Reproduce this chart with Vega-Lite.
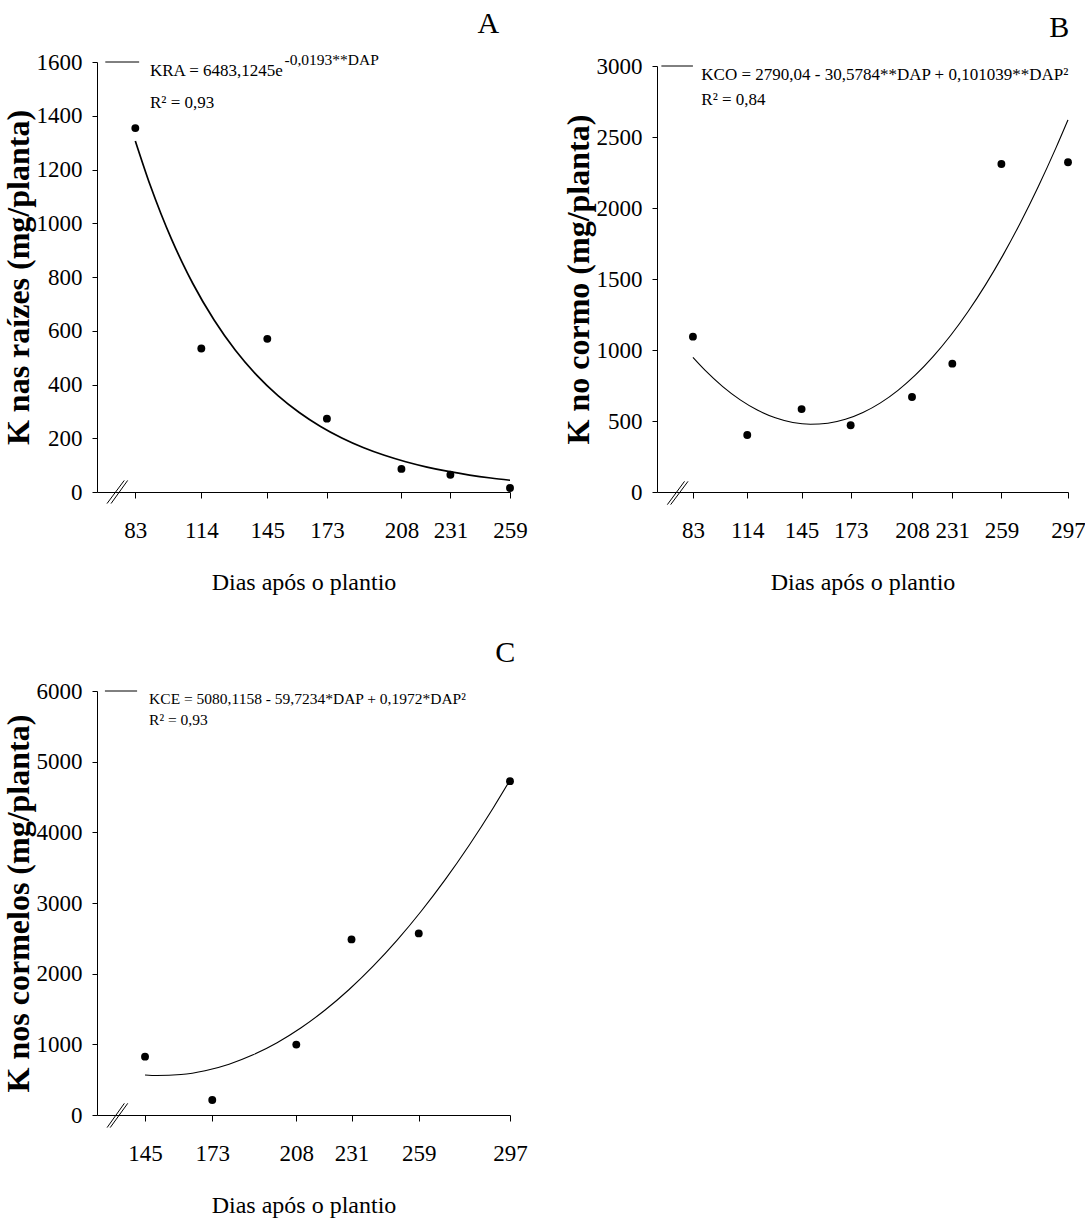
{
  "$schema": "https://vega.github.io/schema/vega-lite/v6.json",
  "background": "white",
  "padding": {"left": 2, "top": 9, "right": 5, "bottom": 5},
  "config": {
    "font": "Liberation Serif",
    "view": {"stroke": null},
    "axis": {
      "grid": false,
      "domainColor": "black",
      "tickColor": "black",
      "labelColor": "black",
      "titleColor": "black",
      "labelFont": "Liberation Serif",
      "titleFont": "Liberation Serif",
      "labelFontSize": 23,
      "titleFontSize": 24,
      "titleFontWeight": "normal",
      "domainWidth": 1,
      "tickWidth": 1
    },
    "axisX": {"tickSize": 6, "labelPadding": 21, "titlePadding": 28, "labelFlush": false},
    "axisY": {"tickSize": 5, "labelPadding": 10, "titlePadding": 1, "titleFontWeight": "bold", "titleFontSize": 32},
    "title": {"font": "Liberation Serif", "fontSize": 30, "fontWeight": "normal", "anchor": "end", "color": "black", "offset": 12}
  },
  "datasets": {
    "one": [{}],
    "pointsA": [
      {"dap": 83, "k": 1354}, {"dap": 114, "k": 534}, {"dap": 145, "k": 570}, {"dap": 173, "k": 273},
      {"dap": 208, "k": 86}, {"dap": 231, "k": 64}, {"dap": 259, "k": 15}
    ],
    "curveA": [
      {"dap": 83, "k": 1306.4}, {"dap": 90, "k": 1141.3}, {"dap": 95, "k": 1036.4}, {"dap": 100, "k": 941.0},
      {"dap": 105, "k": 854.5}, {"dap": 110, "k": 775.8}, {"dap": 120, "k": 639.7}, {"dap": 130, "k": 527.4},
      {"dap": 140, "k": 434.8}, {"dap": 150, "k": 358.5}, {"dap": 160, "k": 295.6}, {"dap": 170, "k": 243.7},
      {"dap": 180, "k": 200.9}, {"dap": 190, "k": 165.6}, {"dap": 200, "k": 136.6}, {"dap": 210, "k": 112.6},
      {"dap": 220, "k": 92.8}, {"dap": 230, "k": 76.6}, {"dap": 240, "k": 63.1}, {"dap": 250, "k": 52.0},
      {"dap": 259, "k": 43.7}
    ],
    "pointsB": [
      {"dap": 83, "k": 1094}, {"dap": 114, "k": 401}, {"dap": 145, "k": 584}, {"dap": 173, "k": 470},
      {"dap": 208, "k": 669}, {"dap": 231, "k": 904}, {"dap": 259, "k": 2310}, {"dap": 297, "k": 2322}
    ],
    "curveB": [
      {"dap": 83, "k": 948.1}, {"dap": 90, "k": 856.4}, {"dap": 100, "k": 742.6}, {"dap": 110, "k": 649.0},
      {"dap": 120, "k": 575.6}, {"dap": 130, "k": 522.4}, {"dap": 140, "k": 489.4}, {"dap": 150, "k": 476.7},
      {"dap": 160, "k": 484.1}, {"dap": 170, "k": 511.7}, {"dap": 180, "k": 559.6}, {"dap": 190, "k": 627.7},
      {"dap": 200, "k": 715.9}, {"dap": 210, "k": 824.4}, {"dap": 220, "k": 953.1}, {"dap": 230, "k": 1102.0},
      {"dap": 240, "k": 1271.1}, {"dap": 250, "k": 1460.4}, {"dap": 260, "k": 1669.9}, {"dap": 270, "k": 1899.6},
      {"dap": 280, "k": 2149.6}, {"dap": 290, "k": 2419.7}, {"dap": 297, "k": 2620.8}
    ],
    "pointsC": [
      {"dap": 145, "k": 826}, {"dap": 173, "k": 212}, {"dap": 208, "k": 996},
      {"dap": 231, "k": 2485}, {"dap": 259, "k": 2570}, {"dap": 297, "k": 4724}
    ],
    "curveC": [
      {"dap": 145, "k": 566.4}, {"dap": 150, "k": 558.6}, {"dap": 160, "k": 572.7}, {"dap": 170, "k": 626.2},
      {"dap": 180, "k": 719.2}, {"dap": 190, "k": 851.6}, {"dap": 200, "k": 1023.4}, {"dap": 210, "k": 1234.7},
      {"dap": 220, "k": 1485.5}, {"dap": 230, "k": 1775.6}, {"dap": 240, "k": 2105.2}, {"dap": 250, "k": 2474.3},
      {"dap": 260, "k": 2882.8}, {"dap": 270, "k": 3330.7}, {"dap": 280, "k": 3818.0}, {"dap": 290, "k": 4344.9},
      {"dap": 297, "k": 4737.1}
    ]
  },
  "bounds": "flush",
  "columns": 2,
  "spacing": {"row": 199, "column": 147},
  "concat": [
    {
      "width": 413,
      "height": 430,
      "title": {"text": "A", "dx": -28},
      "layer": [
        {
          "data": {"name": "curveA"},
          "mark": {"type": "line", "color": "black", "strokeWidth": 1.7, "interpolate": "monotone"},
          "encoding": {
            "x": {"field": "dap", "type": "quantitative", "scale": {"domain": [65, 259], "nice": false, "zero": false},
                  "axis": {"values": [83, 114, 145, 173, 208, 231, 259], "format": "d", "title": "Dias após o plantio"}},
            "y": {"field": "k", "type": "quantitative", "scale": {"domain": [0, 1600], "nice": false},
                  "axis": {"values": [0, 200, 400, 600, 800, 1000, 1200, 1400, 1600], "format": "d", "title": "K nas raízes  (mg/planta)"}}
          }
        },
        {
          "data": {"name": "pointsA"},
          "mark": {"type": "circle", "color": "black", "size": 62, "opacity": 1},
          "encoding": {"x": {"field": "dap", "type": "quantitative"}, "y": {"field": "k", "type": "quantitative"}}
        },
        {"data": {"name": "one"}, "mark": {"type": "rule", "color": "black", "strokeWidth": 1},
         "encoding": {"x": {"datum": 68.9}, "x2": {"datum": 84.8}, "y": {"datum": 1600}}},
        {"data": {"name": "one"}, "mark": {"type": "text", "align": "left", "baseline": "alphabetic", "fontSize": 17, "color": "black"},
         "encoding": {"x": {"datum": 89.9}, "y": {"datum": 1549}, "text": {"value": "KRA =  6483,1245e"}}},
        {"data": {"name": "one"}, "mark": {"type": "text", "align": "left", "baseline": "alphabetic", "fontSize": 15.5, "color": "black"},
         "encoding": {"x": {"datum": 153.1}, "y": {"datum": 1587}, "text": {"value": "-0,0193**DAP"}}},
        {"data": {"name": "one"}, "mark": {"type": "text", "align": "left", "baseline": "alphabetic", "fontSize": 17, "color": "black"},
         "encoding": {"x": {"datum": 89.9}, "y": {"datum": 1427}, "text": {"value": "R² = 0,93"}}},
        {"data": {"name": "one"}, "mark": {"type": "rule", "color": "black", "strokeWidth": 1},
         "encoding": {"x": {"datum": 69.7}, "x2": {"datum": 77.8}, "y": {"datum": -43}, "y2": {"datum": 43}}},
        {"data": {"name": "one"}, "mark": {"type": "rule", "color": "black", "strokeWidth": 1},
         "encoding": {"x": {"datum": 71.6}, "x2": {"datum": 79.4}, "y": {"datum": -43}, "y2": {"datum": 43}}}
      ]
    },
    {
      "width": 411,
      "height": 430,
      "title": {"text": "B", "dx": -16},
      "layer": [
        {
          "data": {"name": "curveB"},
          "mark": {"type": "line", "color": "black", "strokeWidth": 1.1, "interpolate": "monotone"},
          "encoding": {
            "x": {"field": "dap", "type": "quantitative", "scale": {"domain": [62.5, 297], "nice": false, "zero": false},
                  "axis": {"values": [83, 114, 145, 173, 208, 231, 259, 297], "format": "d", "title": "Dias após o plantio"}},
            "y": {"field": "k", "type": "quantitative", "scale": {"domain": [0, 3000], "nice": false, "range": [430, 4]},
                  "axis": {"values": [0, 500, 1000, 1500, 2000, 2500, 3000], "format": "d", "title": "K no cormo (mg/planta)"}}
          }
        },
        {
          "data": {"name": "pointsB"},
          "mark": {"type": "circle", "color": "black", "size": 62, "opacity": 1},
          "encoding": {"x": {"field": "dap", "type": "quantitative"}, "y": {"field": "k", "type": "quantitative"}}
        },
        {"data": {"name": "one"}, "mark": {"type": "rule", "color": "black", "strokeWidth": 1},
         "encoding": {"x": {"datum": 65}, "x2": {"datum": 83}, "y": {"datum": 3000}}},
        {"data": {"name": "one"}, "mark": {"type": "text", "align": "left", "baseline": "alphabetic", "fontSize": 17, "color": "black"},
         "encoding": {"x": {"datum": 87.8}, "y": {"datum": 2904}, "text": {"value": "KCO = 2790,04 - 30,5784**DAP + 0,101039**DAP²"}}},
        {"data": {"name": "one"}, "mark": {"type": "text", "align": "left", "baseline": "alphabetic", "fontSize": 17, "color": "black"},
         "encoding": {"x": {"datum": 87.8}, "y": {"datum": 2728}, "text": {"value": "R² = 0,84"}}},
        {"data": {"name": "one"}, "mark": {"type": "rule", "color": "black", "strokeWidth": 1},
         "encoding": {"x": {"datum": 68.4}, "x2": {"datum": 78.2}, "y": {"datum": -89}, "y2": {"datum": 75}}},
        {"data": {"name": "one"}, "mark": {"type": "rule", "color": "black", "strokeWidth": 1},
         "encoding": {"x": {"datum": 70.3}, "x2": {"datum": 80.2}, "y": {"datum": -89}, "y2": {"datum": 75}}}
      ]
    },
    {
      "width": 413,
      "height": 424,
      "title": {"text": "C", "dx": -12},
      "layer": [
        {
          "data": {"name": "curveC"},
          "mark": {"type": "line", "color": "black", "strokeWidth": 1.1, "interpolate": "monotone"},
          "encoding": {
            "x": {"field": "dap", "type": "quantitative", "scale": {"domain": [125, 297], "nice": false, "zero": false},
                  "axis": {"values": [145, 173, 208, 231, 259, 297], "format": "d", "title": "Dias após o plantio"}},
            "y": {"field": "k", "type": "quantitative", "scale": {"domain": [0, 6000], "nice": false},
                  "axis": {"values": [0, 1000, 2000, 3000, 4000, 5000, 6000], "format": "d", "title": "K nos cormelos (mg/planta)"}}
          }
        },
        {
          "data": {"name": "pointsC"},
          "mark": {"type": "circle", "color": "black", "size": 62, "opacity": 1},
          "encoding": {"x": {"field": "dap", "type": "quantitative"}, "y": {"field": "k", "type": "quantitative"}}
        },
        {"data": {"name": "one"}, "mark": {"type": "rule", "color": "black", "strokeWidth": 1},
         "encoding": {"x": {"datum": 128.3}, "x2": {"datum": 141.7}, "y": {"datum": 6000}}},
        {"data": {"name": "one"}, "mark": {"type": "text", "align": "left", "baseline": "alphabetic", "fontSize": 15.5, "color": "black"},
         "encoding": {"x": {"datum": 146.7}, "y": {"datum": 5816}, "text": {"value": "KCE = 5080,1158 - 59,7234*DAP + 0,1972*DAP²"}}},
        {"data": {"name": "one"}, "mark": {"type": "text", "align": "left", "baseline": "alphabetic", "fontSize": 15.5, "color": "black"},
         "encoding": {"x": {"datum": 146.7}, "y": {"datum": 5514}, "text": {"value": "R² = 0,93"}}},
        {"data": {"name": "one"}, "mark": {"type": "rule", "color": "black", "strokeWidth": 1},
         "encoding": {"x": {"datum": 129.2}, "x2": {"datum": 136.4}, "y": {"datum": -178}, "y2": {"datum": 165}}},
        {"data": {"name": "one"}, "mark": {"type": "rule", "color": "black", "strokeWidth": 1},
         "encoding": {"x": {"datum": 130.5}, "x2": {"datum": 137.8}, "y": {"datum": -178}, "y2": {"datum": 165}}}
      ]
    }
  ]
}
